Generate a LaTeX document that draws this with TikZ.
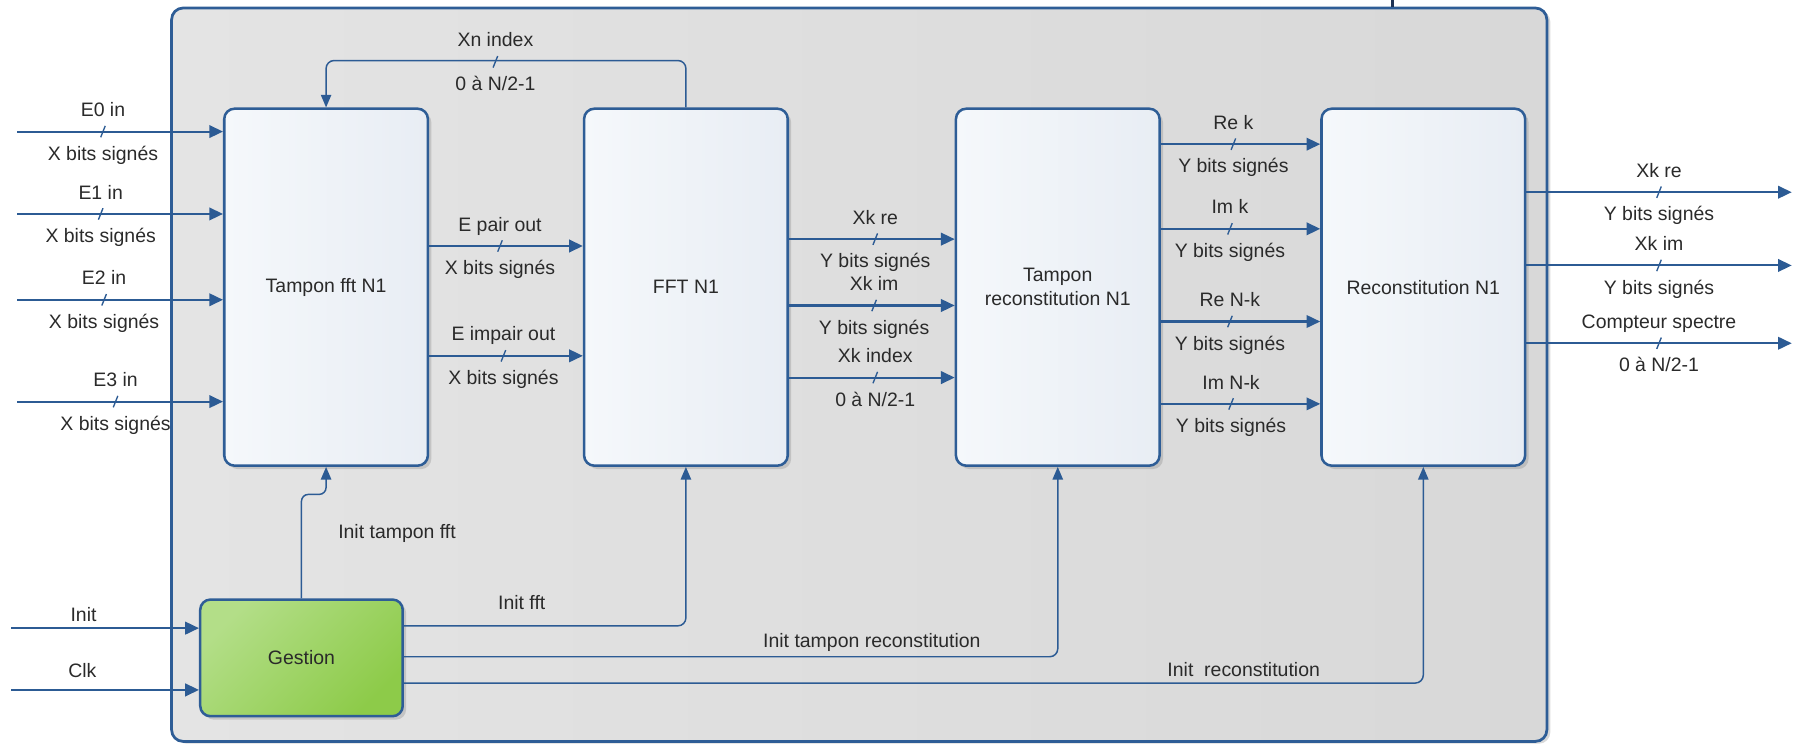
\documentclass[tikz,border=0pt]{standalone}
\usepackage{fontspec}
\setmainfont{Liberation Sans}
\usetikzlibrary{arrows.meta,shadows,calc}

\definecolor{wire}{HTML}{2C5B94}
\definecolor{edge}{HTML}{2E5D96}
\definecolor{ink}{HTML}{2A2A2A}
\definecolor{boxhi}{HTML}{F5F8FB}
\definecolor{boxlo}{HTML}{E8EDF4}
\definecolor{framehi}{HTML}{E4E4E4}
\definecolor{framelo}{HTML}{D8D8D8}
\definecolor{greenhi}{HTML}{B3DE88}
\definecolor{greenlo}{HTML}{8DCB49}
\definecolor{navy}{HTML}{1F3355}

\tikzset{
  lab/.style={font=\fontsize{17}{21}\selectfont, text=ink, inner sep=0pt},
  blk/.style={draw=edge, line width=2.2pt, rounded corners=9pt,
    minimum width=178pt, minimum height=312pt, left color=boxhi, right color=boxlo,
    drop shadow={shadow xshift=3pt, shadow yshift=-3pt, opacity=0.3},
    font=\fontsize{17}{21}\selectfont, text=ink, align=center},
  bus/.style={draw=wire, line width=1.8pt, -{Triangle[length=12pt,width=11pt]}},
  ctl/.style={draw=wire, line width=1.3pt, -{Triangle[length=11pt,width=9pt]}, rounded corners=7pt},
  tick/.style={draw=wire, line width=1.2pt},
}

% label pair and bus-width tick on a bus line: name, x, y, upper text, lower text
\newcommand{\busnote}[5]{%
  \node[lab, anchor=base] (#1-up) at (#2,#3-13) {#4};
  \node[lab, anchor=base] (#1-dn) at (#2,#3+25) {#5};
  \draw[tick] (#2-2,#3+5) -- (#2+2,#3-5);
}

\begin{document}
\begin{tikzpicture}[x=1pt,y=-1pt]
\useasboundingbox (0,0) rectangle (1568,651);

% enclosing block
\node[draw=edge, line width=2.4pt, rounded corners=10pt, minimum width=1202pt, minimum height=641pt,
      left color=framehi, right color=framelo,
      drop shadow={shadow xshift=3pt, shadow yshift=-2pt, opacity=0.3}] (frame) at (751,327.5) {};
\coordinate (stub) at (1217,0);
\draw[navy, line width=3pt] (stub) -- (stub |- frame.north);

% processing blocks
\node[blk] (tfft) at (285,251) {Tampon fft N1};
\node[blk] (fft)  at (599.5,251) {FFT N1};
\node[blk] (trec) at (924.5,251) {Tampon\\reconstitution N1};
\node[blk] (rec)  at (1244,251) {Reconstitution N1};
\node[draw=edge, line width=2.2pt, rounded corners=9pt, minimum width=177pt, minimum height=102pt,
      top color=greenhi, bottom color=greenlo, shading angle=45,
      drop shadow={shadow xshift=3pt, shadow yshift=-3pt, opacity=0.3},
      font=\fontsize{17}{21}\selectfont, text=ink] (gest) at (263.5,575) {Gestion};

% inputs
\coordinate (e0) at (15,115);
\coordinate (e1) at (15,187);
\coordinate (e2) at (15,262);
\coordinate (e3) at (15,351);
\draw[bus] (e0) -- (e0 -| tfft.west);
\draw[bus] (e1) -- (e1 -| tfft.west);
\draw[bus] (e2) -- (e2 -| tfft.west);
\draw[bus] (e3) -- (e3 -| tfft.west);
\busnote{ne0}{90}{115}{E0 in}{X bits signés}
\busnote{ne1}{88}{187}{E1 in}{X bits signés}
\busnote{ne2}{91}{262}{E2 in}{X bits signés}
\busnote{ne3}{101}{351}{E3 in}{X bits signés}

% buffer to FFT
\draw[bus] ([yshift=36pt]tfft.east) -- ([yshift=36pt]fft.west);
\draw[bus] ([yshift=-60pt]tfft.east) -- ([yshift=-60pt]fft.west);
\busnote{npair}{437}{215}{E pair out}{X bits signés}
\busnote{nimpair}{440}{311}{E impair out}{X bits signés}

% index feedback
\draw[ctl] (fft.north) -- ++(0,-41) -| (tfft.north);
\busnote{nxn}{433}{54}{Xn index}{0 à N/2-1}

% FFT to reconstitution buffer
\draw[bus] ([yshift=42pt]fft.east) -- ([yshift=42pt]trec.west);
\draw[bus] ([yshift=-16pt]fft.east) -- ([yshift=-16pt]trec.west);
\draw[bus] ([yshift=-79pt]fft.east) -- ([yshift=-79pt]trec.west);
\busnote{nxre}{765}{209}{Xk re}{Y bits signés}
\busnote{nxim}{764}{267}{Xk im}{Y bits signés}
\busnote{nxidx}{765}{330}{Xk index}{0 à N/2-1}

% buffer to reconstitution
\draw[bus] ([yshift=125pt]trec.east) -- ([yshift=125pt]rec.west);
\draw[bus] ([yshift=51pt]trec.east) -- ([yshift=51pt]rec.west);
\draw[bus] ([yshift=-30pt]trec.east) -- ([yshift=-30pt]rec.west);
\draw[bus] ([yshift=-102pt]trec.east) -- ([yshift=-102pt]rec.west);
\busnote{nrek}{1078}{126}{Re k}{Y bits signés}
\busnote{nimk}{1075}{200}{Im k}{Y bits signés}
\busnote{nrenk}{1075}{281}{Re N-k}{Y bits signés}
\busnote{nimnk}{1076}{353}{Im N-k}{Y bits signés}

% outputs
\coordinate (o1) at (1566,168);
\coordinate (o2) at (1566,232);
\coordinate (o3) at (1566,300);
\draw[bus] (o1 -| rec.east) -- (o1);
\draw[bus] (o2 -| rec.east) -- (o2);
\draw[bus] (o3 -| rec.east) -- (o3);
\busnote{noxre}{1450}{168}{Xk re}{Y bits signés}
\busnote{noxim}{1450}{232}{Xk im}{Y bits signés}
\busnote{ncpt}{1450}{300}{Compteur spectre}{0 à N/2-1}

% control inputs
\coordinate (init) at (10,549);
\coordinate (clk) at (10,603);
\draw[bus] (init) -- (init -| gest.west);
\draw[bus] (clk) -- (clk -| gest.west);
\node[lab, anchor=base] (linit) at (73,543) {Init};
\node[lab, anchor=base] (lclk) at (72,592) {Clk};

% control outputs of Gestion
\draw[ctl, rounded corners=6pt] (gest.north) |- ($(tfft.south)+(0,24)$) -- (tfft.south);
\draw[ctl] ([yshift=28pt]gest.east) -| (fft.south);
\draw[ctl] ([yshift=1pt]gest.east) -| (trec.south);
\draw[ctl] ([yshift=-22pt]gest.east) -| (rec.south);
\node[lab, anchor=base] (linittf) at (347,471) {Init tampon fft};
\node[lab, anchor=base] (linitfft) at (456,533) {Init fft};
\node[lab, anchor=base] (linittr) at (762,566) {Init tampon reconstitution};
\node[lab, anchor=base] (linitrec) at (1087,591) {Init\ \ reconstitution};
\end{tikzpicture}
\end{document}
